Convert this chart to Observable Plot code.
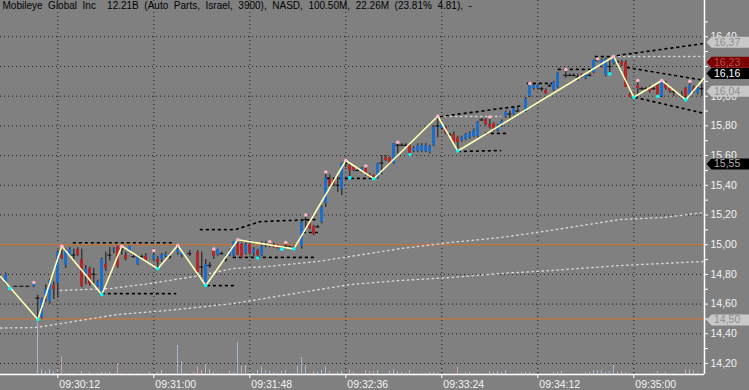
<!DOCTYPE html>
<html><head><meta charset="utf-8">
<script src="https://cdn.jsdelivr.net/npm/d3@7"></script>
<script src="https://cdn.jsdelivr.net/npm/@observablehq/plot@0.6"></script>
<style>
html,body{margin:0;padding:0;background:#808080;overflow:hidden;}
#chart{position:relative;width:749px;height:390px;background:#808080;}
#chart svg{position:absolute;left:0;top:0;}
#chart text{white-space:pre;}
</style></head><body><div id="chart"></div>
<script>
// ---------- data ----------
const title = "Mobileye Global Inc  12.21B (Auto Parts, Israel, 3900), NASD, 100.50M, 22.26M (23.81% 4.81), -";
const timeTickSec = [12, 60, 108, 156, 204, 252, 300]; // seconds after 09:30:00
const timeTickLabels = ["09:30:12","09:31:00","09:31:48","09:32:36","09:33:24","09:34:12","09:35:00"];
const priceTicks = [14.2,14.4,14.6,14.8,15.0,15.2,15.4,15.6,15.8,16.0,16.2,16.4];
const priceTickLabels = ["14,20","14,40","14,60","14,80","15,00","15,20","15,40","15,60","15,80","16,00","16,20","16,40"];
const minorTicks = [14.3,14.5,14.7,14.9,15.1,15.3,15.5,15.7,15.9,16.1,16.3,16.5];
const levelLines = [15.00, 14.50];

// 2-second bars: [second, open, high, low, close]
const candles = [
[-14,14.74,14.81,14.73,14.80],[-9,14.72,14.72,14.72,14.72],[-6,14.72,14.72,14.72,14.72],[-3,14.72,14.72,14.72,14.72],
[0,14.72,14.745,14.71,14.74],[2,14.64,14.66,14.50,14.64],[4,14.51,14.64,14.50,14.63],[6,14.66,14.73,14.61,14.70],
[8,14.62,14.77,14.60,14.76],[10,14.725,14.75,14.63,14.70],[12,14.74,14.96,14.64,14.95],[14,14.93,14.99,14.90,14.91],
[16,14.86,14.97,14.84,14.96],[18,14.93,14.98,14.92,14.97],[20,14.93,14.97,14.89,14.93],[22,14.97,14.98,14.92,14.93],
[24,14.90,14.97,14.71,14.72],[26,14.79,14.86,14.73,14.83],[28,14.84,14.85,14.72,14.73],[30,14.80,14.84,14.72,14.80],
[32,14.72,14.76,14.71,14.75],[34,14.68,14.91,14.665,14.90],[36,14.87,14.95,14.82,14.84],[38,14.93,14.98,14.89,14.93],
[40,14.96,14.98,14.94,14.97],[42,14.99,14.99,14.84,14.85],[44,14.97,14.99,14.93,14.97],[46,14.93,14.95,14.89,14.90],
[48,14.96,14.99,14.95,14.99],[50,14.92,14.93,14.91,14.92],[52,14.87,14.93,14.86,14.92],[54,14.92,14.93,14.91,14.92],
[56,14.92,14.94,14.88,14.89],[60,14.90,14.96,14.89,14.93],[62,14.90,14.92,14.84,14.88],[64,14.90,14.94,14.88,14.93],
[66,14.92,14.95,14.91,14.935],[68,14.92,14.94,14.90,14.92],[72,14.95,14.995,14.93,14.97],[74,14.93,14.96,14.91,14.95],
[78,14.94,14.96,14.92,14.94],[82,14.95,14.96,14.81,14.81],[84,14.85,14.95,14.78,14.85],[86,14.74,14.90,14.725,14.87],
[88,14.86,14.88,14.84,14.86],[90,14.97,14.975,14.90,14.92],[92,14.93,14.97,14.92,14.965],[94,14.94,14.95,14.93,14.94],
[96,14.90,14.93,14.88,14.90],[98,14.93,14.97,14.92,14.96],[100,14.93,15.02,14.92,15.02],[102,15.00,15.033,14.93,14.93],
[104,15.00,15.01,14.91,14.915],[106,14.94,15.01,14.93,15.00],[108,15.00,15.01,14.93,14.94],[110,14.94,14.98,14.92,14.97],
[112,14.96,14.97,14.91,14.93],[114,14.93,15.02,14.92,14.99],[116,15.00,15.02,14.98,15.00],[118,15.00,15.02,14.98,15.00],
[120,15.00,15.01,14.975,14.98],[122,14.995,15.00,14.97,14.975],[124,14.98,14.99,14.97,14.98],[126,14.99,15.015,14.98,14.99],
[128,14.985,14.99,14.98,14.985],[130,14.98,14.99,14.972,14.98],[134,14.99,15.17,14.97,15.15],[136,15.17,15.20,15.10,15.17],
[138,15.14,15.15,15.10,15.11],[140,15.12,15.13,15.06,15.07],[142,15.12,15.13,15.11,15.12],[144,15.15,15.26,15.14,15.25],
[146,15.28,15.49,15.25,15.445],[148,15.44,15.47,15.39,15.40],[150,15.43,15.45,15.39,15.41],[152,15.40,15.47,15.35,15.40],
[154,15.37,15.55,15.33,15.55],[156,15.55,15.567,15.52,15.55],[158,15.53,15.55,15.45,15.50],[160,15.52,15.53,15.49,15.50],
[162,15.50,15.51,15.49,15.50],[164,15.49,15.52,15.48,15.51],[166,15.51,15.53,15.46,15.47],[168,15.47,15.48,15.44,15.45],
[170,15.465,15.47,15.444,15.45],[172,15.45,15.55,15.44,15.55],[174,15.55,15.60,15.47,15.55],[176,15.59,15.60,15.56,15.57],
[178,15.585,15.59,15.54,15.55],[180,15.55,15.68,15.54,15.68],[182,15.67,15.69,15.61,15.67],[184,15.67,15.68,15.66,15.67],
[186,15.67,15.68,15.66,15.67],[188,15.67,15.68,15.607,15.61],[190,15.63,15.66,15.62,15.65],[192,15.63,15.68,15.62,15.67],
[194,15.63,15.68,15.62,15.67],[196,15.63,15.68,15.62,15.67],[198,15.62,15.67,15.61,15.66],[200,15.67,15.80,15.66,15.79],
[202,15.80,15.865,15.72,15.80],[204,15.78,15.82,15.77,15.81],[206,15.79,15.80,15.74,15.75],[208,15.74,15.75,15.73,15.74],
[210,15.74,15.76,15.67,15.68],[212,15.72,15.73,15.631,15.69],[214,15.70,15.73,15.69,15.72],[216,15.71,15.75,15.70,15.74],
[218,15.72,15.76,15.71,15.75],[220,15.73,15.78,15.72,15.77],[222,15.73,15.83,15.72,15.82],[224,15.84,15.85,15.83,15.84],
[226,15.84,15.85,15.80,15.81],[228,15.81,15.86,15.78,15.79],[230,15.815,15.82,15.76,15.77],[232,15.77,15.81,15.76,15.80],
[234,15.80,15.84,15.79,15.83],[236,15.86,15.90,15.85,15.89],[238,15.88,15.90,15.85,15.88],[240,15.88,15.93,15.87,15.92],
[242,15.90,15.92,15.89,15.90],[246,15.90,15.99,15.89,15.98],[248,16.00,16.085,15.99,16.08],[250,16.05,16.08,16.04,16.07],
[252,16.05,16.08,16.04,16.07],[254,16.05,16.06,16.03,16.05],[256,16.04,16.05,16.01,16.02],[258,16.07,16.08,16.06,16.07],
[260,16.04,16.10,16.03,16.09],[262,16.06,16.16,16.05,16.15],[266,16.14,16.18,16.12,16.14],[268,16.14,16.15,16.13,16.14],
[270,16.14,16.15,16.13,16.14],[272,16.13,16.15,16.10,16.13],[274,16.145,16.15,16.12,16.13],[276,16.12,16.15,16.11,16.145],
[278,16.14,16.15,16.13,16.14],[280,16.16,16.245,16.15,16.24],[282,16.24,16.25,16.23,16.24],[284,16.20,16.25,16.19,16.24],
[286,16.14,16.255,16.13,16.25],[288,16.20,16.24,16.15,16.20],[290,16.22,16.267,16.21,16.25],[292,16.23,16.24,16.22,16.23],
[294,16.23,16.24,16.20,16.21],[296,16.23,16.24,16.06,16.06],[298,16.01,16.02,15.99,15.99],[300,15.99,16.00,15.99,15.99],
[302,16.07,16.105,15.99,16.05],[304,16.05,16.06,16.04,16.05],[306,16.05,16.06,16.04,16.05],[308,16.06,16.07,16.02,16.03],
[310,16.05,16.06,16.04,16.05],[312,16.07,16.08,16.00,16.00],[314,16.00,16.106,15.99,16.09],[316,16.09,16.10,16.04,16.05],
[318,16.05,16.06,16.02,16.03],[320,16.03,16.04,16.00,16.03],[324,16.00,16.03,15.98,16.00],[326,16.05,16.06,15.976,16.00],
[328,16.00,16.10,15.99,16.07],[330,16.06,16.07,16.02,16.03],[332,16.02,16.06,16.01,16.05],[334,16.05,16.08,16.00,16.05]
];

// volume: [second, thousand shares, up(1)/down(0)]
const volumes = [
[2,52,1],[4,5,1],[6,2.7,1],[8,5.3,1],[10,2.7,0],[12,6,1],[14,17.7,0],[18,1,1],[20,1,1],[24,2.7,0],[28,1.7,0],[32,1,1],
[34,1.7,1],[36,2,0],[38,2,0],[42,11,0],[44,1,1],[48,1,1],[52,1,1],[58,1.7,0],[60,1,1],[62,1.7,0],[64,3.7,1],[66,1,1],
[72,28.7,1],[74,13.3,1],[76,1,1],[80,1.7,1],[82,8.3,0],[84,4.3,0],[86,10,1],[88,5.3,1],[90,2,0],[92,1,1],[94,1,1],
[98,2.7,0],[100,1.7,1],[102,32,1],[104,7.7,0],[106,8.7,1],[108,3.3,0],[110,1,1],[112,4.3,1],[114,7.7,1],[116,4.3,1],
[118,2.7,1],[120,1.7,0],[122,1,1],[124,2.7,1],[126,3.7,1],[128,1,1],[130,1,1],[132,8.3,1],[134,16.7,1],[136,8.7,1],
[138,1,0],[140,2.7,0],[142,1.7,1],[144,4.3,1],[146,7.7,1],[148,2.7,0],[150,1,0],[152,2,1],[154,2.7,1],[156,1,1],
[158,3.7,0],[160,2,0],[164,1,1],[166,3.7,0],[168,2.7,0],[170,2.7,0],[172,4.3,1],[178,2.7,0],[180,5.3,1],[182,2.7,1],
[184,1.7,1],[186,1,1],[188,3.7,0],[190,1,1],[194,1,1],[196,1,1],[198,1.7,1],[200,1.7,1],[202,1,1],[212,6.7,0],
[214,1,1],[216,1.7,1],[218,1.7,1],[220,1,1],[222,1,1],[228,2.7,0],[230,2,0],[232,2.7,1],[234,1.7,1],[236,4.3,1],
[242,1,1],[244,1.7,1],[246,1.7,1],[248,1.7,1],[250,1,1],[260,2,1],[262,1.7,1],[264,2.7,1],[274,1,0],[276,1.7,1],
[278,1.7,1],[280,4.3,1],[282,3.7,1],[284,4.3,1],[286,1.7,1],[288,2.7,1],[290,9.3,1],[292,1.7,1],[294,2.7,0],[296,2,0],
[298,1,0],[308,1,0],[310,1,1],[312,2.7,0],[314,1,1],[316,1.7,0],[320,1,1],[326,5.3,0],[328,5.3,1],[330,4.3,0],[332,1,1]
];

// zigzag pivots [second, price]
const zigzag = [[-16.65,14.786],[2,14.496],[14,14.99],[34,14.665],[44,14.99],[62,14.838],[72,14.995],[86,14.725],
[102,15.033],[130,14.972],[156,15.567],[170,15.444],[202,15.865],[212,15.631],[290,16.267],[300,15.993],
[314,16.106],[326,15.976],[335.35,16.126]];
const highMarks = [[0,14.745],[14,14.99],[44,14.99],[60,14.96],[72,14.995],[90,14.97],[102,15.033],[118,15.02],
[126,15.015],[136,15.20],[146,15.49],[156,15.567],[166,15.53],[182,15.69],[202,15.865],[228,15.86],[248,16.085],
[266,16.18],[282,16.25],[290,16.267],[302,16.105],[314,16.106],[328,16.10]];
const lowMarks = [[-12,14.705],[2,14.496],[34,14.665],[62,14.838],[86,14.725],[112,14.91],[124,14.97],[130,14.972],
[158,15.45],[170,15.444],[188,15.607],[212,15.631],[288,16.15],[300,15.993],[312,16.00],[326,15.976]];

// light dotted averages
const avgUpper = [[13.35,14.692],[38.35,14.705],[58.35,14.739],[83.35,14.793],[99.85,14.84],[116.85,14.853],
[141.85,14.887],[158.35,14.921],[183.35,14.974],[208.35,15.015],[233.35,15.048],[258.35,15.096],[293.35,15.17],
[314.85,15.183],[335.35,15.217]];
const avgLower = [[-16.65,14.439],[0.85,14.442],[41.85,14.53],[66.85,14.557],[99.85,14.604],[133.35,14.678],
[158.35,14.732],[183.35,14.759],[208.35,14.779],[233.35,14.806],[258.35,14.826],[293.35,14.86],[335.35,14.887]];
const lightSegments = [
 [[203.35,15.863],[233.35,15.863]],
 [[289.85,16.267],[335.35,16.267]]
];
// black dotted channel segments
const channelSegments = [
 [[19.85,15.013],[70.85,15.013]],
 [[34.35,14.671],[70.85,14.671]],
 [[86.85,14.725],[100.85,14.725]],
 [[83.35,15.102],[100.85,15.102],[113.35,15.156],[142.35,15.17]],
 [[99.85,14.914],[141.85,14.914]],
 [[134.85,15.082],[143.35,15.082]],
 [[146.85,15.446],[169.85,15.446]],
 [[203.35,15.863],[244.85,15.937]],
 [[246.85,16.086],[261.85,16.086]],
 [[262.35,16.18],[278.35,16.18]],
 [[280.85,16.267],[291.85,16.267]],
 [[291.85,16.274],[335.35,16.355]],
 [[212.35,15.628],[233.35,15.634]],
 [[225.85,15.749],[235.85,15.749]],
 [[296.85,16.193],[335.35,16.106]],
 [[300.85,15.991],[335.35,15.884]]
];

// price tags on right axis
const tagValues = [16.37, 16.235, 16.16, 16.04, 15.55, 14.50];
const tagLabels = ["16,37","16,23","16,16","16,04","15,55","14,50"];

// ---------- styles ----------
const tagFills = ["#c8c8c8","#7c0000","#000000","#c8c8c8","#000000","#c8c8c8"];
const tagText = ["#8e8e8e","#b05050","#ffffff","#8e8e8e","#b0b0b0","#8e8e8e"];
const BLUE = "#1e6ec8", RED = "#b02828", WICK = "#161616", GRID = "#1e1e1e", ORANGE = "#c8733a";
const X0 = -16.65, X1 = 335.35, Y0 = 14.1259, Y1 = 16.6444;
const W = 749, H = 390, MR = 45, MB = 16;
const FONT = "'Liberation Sans', Arial, sans-serif";

const cdl = candles.map(([t,o,h,l,c]) => ({t,o,h,l,c}));
const bodies = cdl.filter(d => d.o !== d.c);
const dojis = cdl.filter(d => d.o === d.c);
const chanPts = channelSegments.flatMap((seg, id) => seg.map(([t,v]) => ({t, v, id})));
const lightPts = lightSegments.flatMap((seg, id) => seg.map(([t,v]) => ({t, v, id})));
const allTicks = priceTicks.concat(minorTicks);

const tagShape = {draw(ctx) {
  ctx.moveTo(0,0); ctx.lineTo(5,-5.5); ctx.lineTo(44,-5.5); ctx.lineTo(44,5.5); ctx.lineTo(5,5.5); ctx.closePath();
}};
const TAG_X = 336.35;

const volPlot = Plot.plot({
  width: W, height: H, marginLeft: 0, marginRight: MR, marginTop: 314, marginBottom: MB,
  x: {domain: [X0, X1], axis: null}, y: {domain: [0, 60], axis: null},
  color: {type: "identity"},
  style: {background: "transparent"},
  marks: [
    Plot.rect(volumes, {x1: d => d[0]-0.25, x2: d => d[0]+0.25, y1: 0, y2: d => d[1],
      fill: d => d[2] ? "#a6b6cf" : "#cba4a9", shapeRendering: "crispEdges"})
  ]
});

const main = Plot.plot({
  width: W, height: H, marginLeft: 0, marginRight: MR, marginTop: 0, marginBottom: MB,
  x: {domain: [X0, X1], axis: null}, y: {domain: [Y0, Y1], axis: null},
  color: {type: "identity"},
  style: {background: "transparent", fontFamily: FONT, fontSize: "10.5px", color: "#fff"},
  marks: [
    Plot.ruleY(priceTicks, {stroke: GRID, strokeDasharray: "1,3"}),
    Plot.ruleX(timeTickSec, {stroke: GRID, strokeDasharray: "1,3"}),
    Plot.ruleY(levelLines, {stroke: ORANGE, strokeWidth: 1.2}),
    Plot.line(avgUpper, {x: d => d[0], y: d => d[1], stroke: "#d6d6d6", strokeWidth: 1.4, strokeDasharray: "1.4,3.6"}),
    Plot.line(avgLower, {x: d => d[0], y: d => d[1], stroke: "#d6d6d6", strokeWidth: 1.4, strokeDasharray: "1.4,3.6"}),
    Plot.line(lightPts, {x: "t", y: "v", z: "id", stroke: "#d0d0d0", strokeWidth: 1.4, strokeDasharray: "1.4,3.6"}),
    Plot.line(chanPts, {x: "t", y: "v", z: "id", stroke: "#000", strokeWidth: 1.7, strokeDasharray: "1.7,4.3"}),
    Plot.ruleX(cdl, {x: "t", y1: "l", y2: "h", stroke: WICK, strokeWidth: 1}),
    Plot.rect(bodies, {x1: d => d.t-0.85, x2: d => d.t+0.85, y1: "o", y2: "c",
      fill: d => d.c > d.o ? BLUE : RED, shapeRendering: "crispEdges"}),
    Plot.ruleY(dojis, {y: "o", x1: d => d.t-1, x2: d => d.t+1, stroke: WICK, strokeWidth: 1.2}),
    Plot.line(zigzag, {x: d => d[0], y: d => d[1], stroke: "#ffffb8", strokeWidth: 1.6}),
    Plot.dot(highMarks, {x: d => d[0], y: d => d[1], r: 1.8, fill: "#ffb6c8"}),
    Plot.dot(lowMarks, {x: d => d[0], y: d => d[1], r: 1.8, fill: "#00ffff"}),
    // axes
    Plot.ruleX([X1], {stroke: "#ffffff", strokeWidth: 1.5}),
    Plot.ruleY([Y0], {stroke: "#ffffff", strokeWidth: 1.5}),
    Plot.ruleY(allTicks, {y: d => d, x1: X1, x2: X1 + 2, stroke: "#ffffff"}),
    Plot.text(priceTicks, {x: X1, y: d => d, text: (d, i) => priceTickLabels[i], dx: 6, textAnchor: "start", fill: "#f4f4f4"}),
    Plot.ruleX(timeTickSec, {x: d => d, y1: Y0, y2: Y0 - 4/148.5, stroke: "#ffffff"}),
    Plot.text(timeTickSec, {x: d => d, y: Y0, text: (d, i) => timeTickLabels[i], lineAnchor: "top", dy: 6, dx: 1.5,
      textAnchor: "start", fill: "#f4f4f4"}),
    ...tagValues.flatMap((v, i) => [
      Plot.dot([v], {x: TAG_X, y: d => d, symbol: tagShape, r: 5, fill: tagFills[i], dy: 1}),
      Plot.text([v], {x: TAG_X, y: d => d, text: () => tagLabels[i], dx: 7.5, dy: 1, textAnchor: "start", fill: tagText[i]})
    ]),
    Plot.text([title], {frameAnchor: "top-left", text: d => d, lineAnchor: "top", textAnchor: "start",
      dx: 2, dy: 1.5, fill: "#000000", fontSize: 10})
  ]
});

main.querySelectorAll("text").forEach(t => {
  if (t.textContent === title) t.style.wordSpacing = "2.8px";
});

const chart = document.getElementById("chart");
chart.appendChild(volPlot);
chart.appendChild(main);
</script></body></html>
